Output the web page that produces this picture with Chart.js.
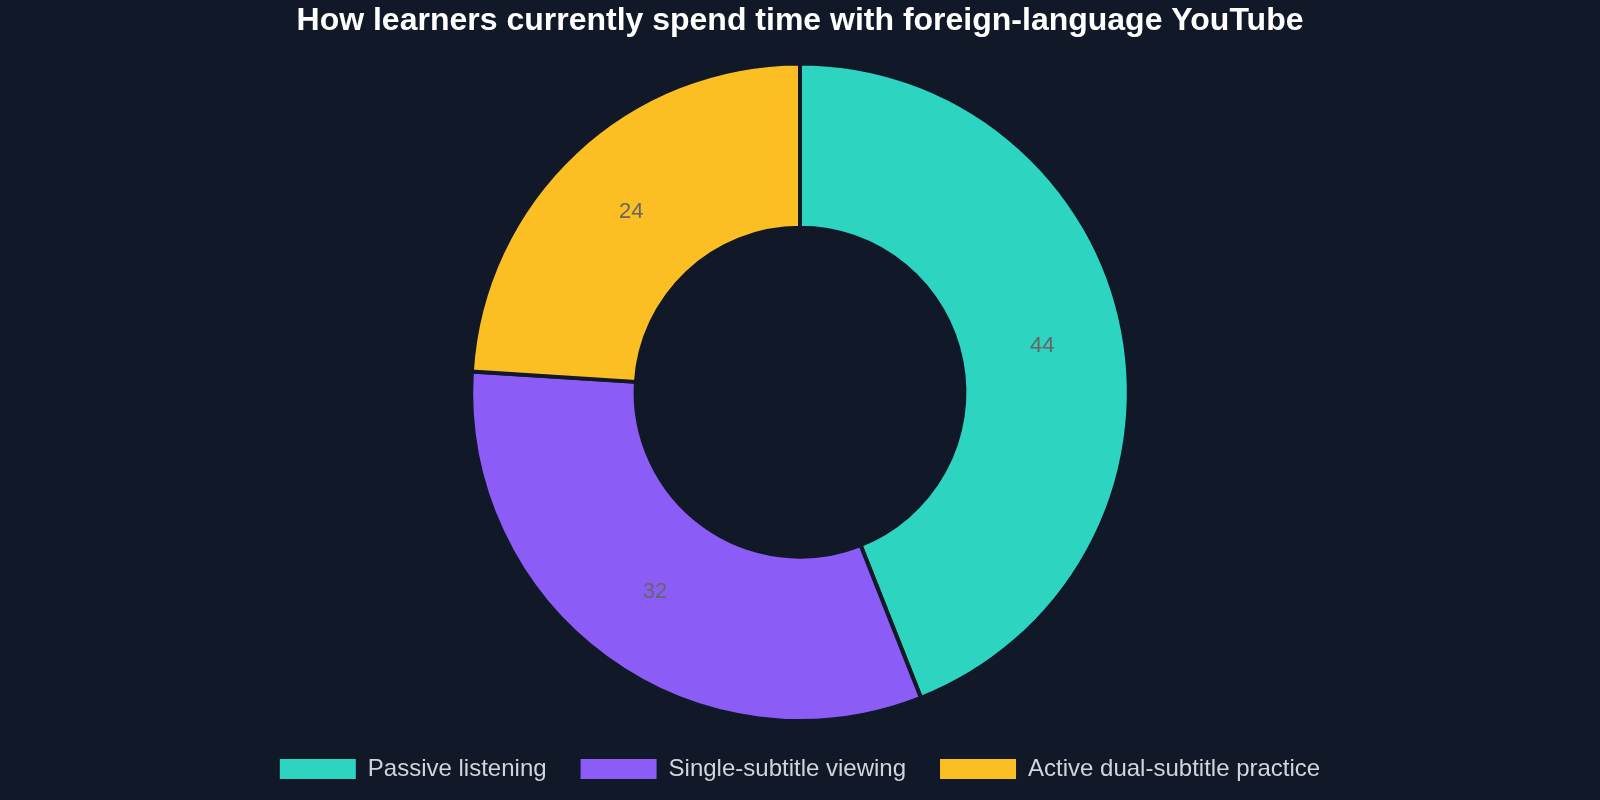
<!DOCTYPE html>
<html>
<head>
<meta charset="utf-8">
<script src="https://cdn.jsdelivr.net/npm/chart.js@4/dist/chart.umd.min.js"></script>
<style>
  html, body { margin: 0; padding: 0; background: #111827; }
  #wrap { width: 1600px; height: 800px; }
</style>
</head>
<body>
<div id="wrap"><canvas id="donut"></canvas></div>
<script>
var labels = ['Passive listening', 'Single-subtitle viewing', 'Active dual-subtitle practice'];
var shares = [44, 32, 24];
var colors = ['#2dd4bf', '#8b5cf6', '#fbbf24'];

// draw the value in the middle of each slice
var sliceLabels = {
  id: 'sliceLabels',
  afterDatasetsDraw: function(chart) {
    var c = chart.ctx;
    var meta = chart.getDatasetMeta(0);
    c.save();
    c.font = '22px "Liberation Sans", Arial, sans-serif';
    c.fillStyle = '#666666';
    c.textAlign = 'center';
    c.textBaseline = 'middle';
    meta.data.forEach(function(arc, i) {
      var p = arc.tooltipPosition();
      c.fillText(String(chart.data.datasets[0].data[i]), p.x, p.y);
    });
    c.restore();
  }
};

var baseLabels = Chart.overrides.doughnut.plugins.legend.labels.generateLabels;

var ctx = document.getElementById('donut');
var donut = new Chart(ctx, {
  type: 'doughnut',
  data: {
    labels: labels,
    datasets: [{
      data: shares,
      backgroundColor: colors,
      borderColor: '#111827',
      borderWidth: 4
    }]
  },
  options: {
    responsive: true,
    maintainAspectRatio: false,
    animation: false,
    cutout: '50%',
    layout: { padding: { top: 0, bottom: 9 } },
    plugins: {
      title: {
        display: true,
        text: 'How learners currently spend time with foreign-language YouTube',
        color: '#ffffff',
        font: { family: '"Liberation Sans", Arial, sans-serif', size: 32, weight: 'bold' },
        padding: { top: 2, bottom: 21 }
      },
      legend: {
        position: 'bottom',
        labels: {
          color: '#d1d5db',
          font: { family: '"Liberation Sans", Arial, sans-serif', size: 24 },
          boxWidth: 76,
          boxHeight: 20,
          padding: 34,
          generateLabels: function(chart) {
            return baseLabels(chart).map(function(item) {
              item.lineWidth = 0;
              return item;
            });
          }
        }
      },
      tooltip: { enabled: false }
    }
  },
  plugins: [sliceLabels]
});
</script>
</body>
</html>
